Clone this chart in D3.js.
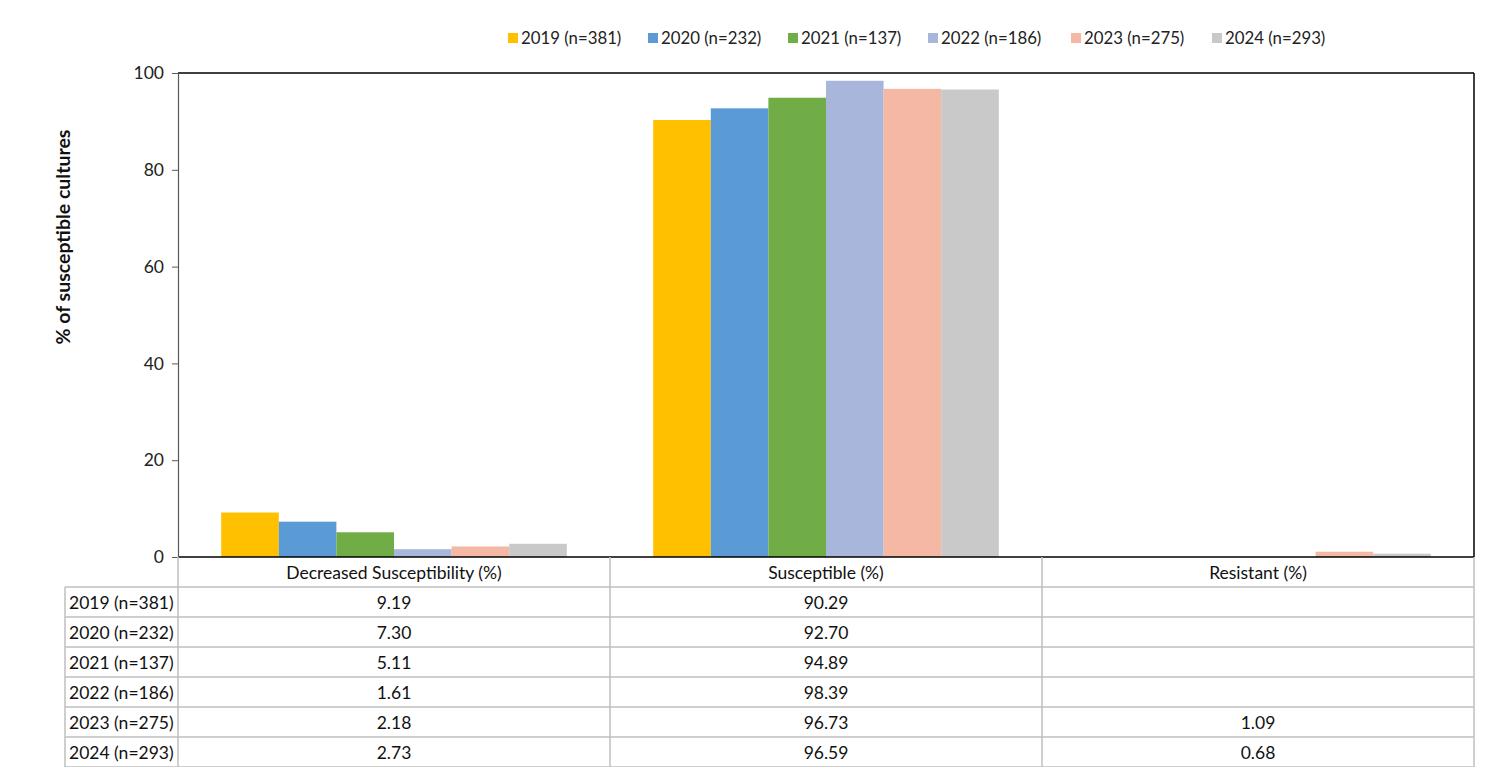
<!DOCTYPE html>
<html><head><meta charset="utf-8">
<script src="https://cdn.jsdelivr.net/npm/d3@7"></script>
<style>body{margin:0;background:#fff;}svg{display:block;font-family:Lato,"Open Sans",sans-serif;}</style>
</head><body><svg id="c" width="1500" height="767"></svg>
<script>
const categories = ["Decreased Susceptibility (%)", "Susceptible (%)", "Resistant (%)"];
const seriesNames = ["2019 (n=381)", "2020 (n=232)", "2021 (n=137)", "2022 (n=186)", "2023 (n=275)", "2024 (n=293)"];
const decreased = [9.19, 7.30, 5.11, 1.61, 2.18, 2.73];
const susceptible = [90.29, 92.70, 94.89, 98.39, 96.73, 96.59];
const resistant = [null, null, null, null, 1.09, 0.68];
const colors = ["#FFC000", "#5B9BD5", "#70AD47", "#A8B6DB", "#F4B8A4", "#C9C9C9"];
const yTicks = [0, 20, 40, 60, 80, 100];

const seriesValues = seriesNames.map((n, i) => [decreased[i], susceptible[i], resistant[i]]);

const svg = d3.select("#c");
const L = 178, R = 1474, T = 73, B = 557;
const FS = 17.5;
const x0 = d3.scaleBand().domain(categories).range([L, R]).paddingInner(0).paddingOuter(0);
const x1 = d3.scaleBand().domain(seriesNames).range([0, x0.bandwidth()]).paddingInner(0).paddingOuter(0.75);
const y = d3.scaleLinear().domain([0, 100]).range([B, T]);

// bars
const g = svg.append("g");
seriesNames.forEach((s, si) => {
  g.selectAll(null).data(categories.map((c, ci) => ({c, v: seriesValues[si][ci]})).filter(d => d.v != null))
    .enter().append("rect")
    .attr("x", d => x0(d.c) + x1(s))
    .attr("width", x1.bandwidth())
    .attr("y", d => y(d.v))
    .attr("height", d => B - y(d.v))
    .attr("fill", colors[si]);
});

// plot border
svg.append("line").attr("x1", L).attr("x2", R).attr("y1", T).attr("y2", T).attr("stroke", "#000").attr("stroke-width", 1.5);
svg.append("line").attr("x1", R).attr("x2", R).attr("y1", T).attr("y2", B).attr("stroke", "#000").attr("stroke-width", 1.5);
svg.append("line").attr("x1", L).attr("x2", R).attr("y1", B).attr("y2", B).attr("stroke", "#000").attr("stroke-width", 1.5);

// y axis
const yAxis = d3.axisLeft(y).tickValues(yTicks).tickSize(6).tickPadding(8).tickFormat(d3.format("d"));
const ya = svg.append("g").attr("transform", `translate(${L},0)`).call(yAxis);
ya.select(".domain").attr("stroke", "#595959").attr("stroke-width", 1.2);
ya.selectAll(".tick line").attr("stroke", "#595959");
ya.selectAll(".tick text").attr("font-size", FS).attr("fill", "#222").style("font-family", "Lato, sans-serif");

svg.append("text").attr("transform", "translate(70,237) rotate(-90)")
  .attr("text-anchor", "middle").attr("font-size", 19.5).attr("font-weight", "bold").attr("fill", "#111")
  .text("% of susceptible cultures");

// legend
const legX = [508, 648, 788, 928, 1071, 1212];
seriesNames.forEach((s, i) => {
  svg.append("rect").attr("x", legX[i]).attr("y", 33).attr("width", 10).attr("height", 10).attr("fill", colors[i]);
  svg.append("text").attr("x", legX[i] + 13).attr("y", 44).attr("font-size", 16.8).attr("fill", "#222").text(s);
});

// data table
const rowH = 30, headTop = B, tLeft = 65;
const grid = "#BFBFBF";
const nRows = seriesNames.length;
const bottom = headTop + rowH * (nRows + 1);
[L, ...categories.map(c => x0(c) + x0.bandwidth())].forEach(xv => {
  svg.append("line").attr("x1", xv).attr("x2", xv).attr("y1", headTop).attr("y2", bottom).attr("stroke", grid).attr("stroke-width", 1.5);
});
svg.append("line").attr("x1", tLeft).attr("x2", tLeft).attr("y1", headTop + rowH).attr("y2", bottom).attr("stroke", grid).attr("stroke-width", 1.5);
for (let r = 1; r <= nRows + 1; r++) {
  svg.append("line").attr("x1", tLeft).attr("x2", R).attr("y1", headTop + rowH * r).attr("y2", headTop + rowH * r).attr("stroke", grid).attr("stroke-width", 1.5);
}
categories.forEach(c => {
  svg.append("text").attr("x", x0(c) + x0.bandwidth() / 2).attr("y", headTop + 22).attr("text-anchor", "middle")
    .attr("font-size", FS).attr("fill", "#111").text(c);
});
seriesNames.forEach((s, si) => {
  const yy = headTop + rowH * (si + 1) + 22;
  svg.append("text").attr("x", tLeft + 4).attr("y", yy).attr("font-size", FS).attr("fill", "#111").text(s);
  categories.forEach((c, ci) => {
    const v = seriesValues[si][ci];
    if (v != null) svg.append("text").attr("x", x0(c) + x0.bandwidth() / 2).attr("y", yy).attr("text-anchor", "middle")
      .attr("font-size", FS).attr("fill", "#111").text(v.toFixed(2));
  });
});
</script></body></html>
